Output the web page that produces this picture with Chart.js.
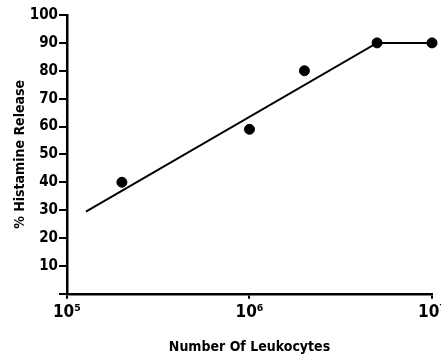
<!DOCTYPE html>
<html>
<head>
<meta charset="utf-8">
<script src="https://cdn.jsdelivr.net/npm/chart.js@4"></script>
<style>
  html, body { margin: 0; padding: 0; background: #fff; overflow: hidden; }
  #wrap { width: 441px; height: 358px; overflow: hidden; }
</style>
</head>
<body>
<div id="wrap"><canvas id="releaseChart" width="452" height="358"></canvas></div>
<script>
// measured points
const cellCounts = [2e5, 1e6, 2e6, 5e6, 1e7];
const releasePct = [40, 59, 80, 90, 90];
// fitted line drawn through the data
const fitCounts = [1.27e5, 5e6, 1e7];
const fitPct = [29.5, 90, 90];
// axis ticks
const xTicks = [1e5, 1e6, 1e7];
const xTickLabels = ['10⁵', '10⁶', '10⁷'];

const FONT = '"DejaVu Sans Condensed", "Liberation Sans Narrow", sans-serif';

const ctx = document.getElementById('releaseChart');
new Chart(ctx, {
    type: 'scatter',
    data: {
        datasets: [
            {
                data: cellCounts.map((x, i) => ({ x: x, y: releasePct[i] })),
                backgroundColor: '#000',
                borderColor: '#000',
                pointRadius: 5,
                pointHoverRadius: 5,
                clip: false
            },
            {
                type: 'line',
                data: fitCounts.map((x, i) => ({ x: x, y: fitPct[i] })),
                borderColor: '#000',
                borderWidth: 2,
                pointRadius: 0,
                fill: false,
                tension: 0
            }
        ]
    },
    options: {
        responsive: false,
        animation: false,
        layout: { padding: { left: 8, top: 15, right: 20, bottom: 0 } },
        plugins: { legend: { display: false }, tooltip: { enabled: false } },
        scales: {
            x: {
                type: 'logarithmic',
                min: 1e5, max: 1e7,
                afterBuildTicks: (axis) => { axis.ticks = xTicks.map(v => ({ value: v })); },
                ticks: {
                    color: '#000',
                    font: { family: FONT, size: 17, weight: 'bold' },
                    maxRotation: 0,
                    padding: 4,
                    callback: (val) => xTickLabels[xTicks.indexOf(val)]
                },
                grid: { drawOnChartArea: false, tickLength: 5, color: '#000', lineWidth: 2 },
                border: { color: '#000', width: 2.5 },
                title: {
                    display: true,
                    text: 'Number Of Leukocytes',
                    color: '#000',
                    font: { family: FONT, size: 14, weight: 'bold' },
                    padding: { top: 12, bottom: 2 }
                }
            },
            y: {
                min: 0, max: 100,
                ticks: {
                    stepSize: 10,
                    color: '#000',
                    padding: 1,
                    font: { family: FONT, size: 15, weight: 'bold' },
                    callback: (val) => val === 0 ? '' : val
                },
                grid: { drawOnChartArea: false, tickLength: 8, color: '#000', lineWidth: 2 },
                border: { color: '#000', width: 2.5 },
                title: {
                    display: true,
                    text: '% Histamine Release',
                    color: '#000',
                    font: { family: FONT, size: 14, weight: 'bold' },
                    padding: { top: 4, bottom: 0 }
                }
            }
        }
    }
});
</script>
</body>
</html>
